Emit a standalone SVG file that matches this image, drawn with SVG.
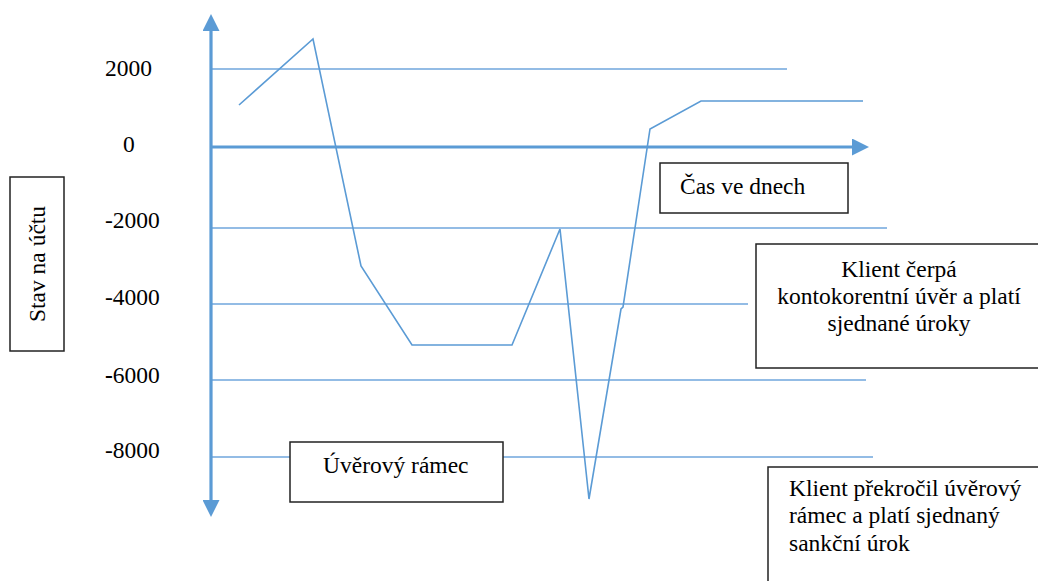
<svg xmlns="http://www.w3.org/2000/svg" width="1038" height="581" viewBox="0 0 1038 581">
<style>
.t{font-family:"Liberation Serif","Times New Roman",serif;font-size:23.5px;fill:#000}
.grid{stroke:#6FA6DC;stroke-width:1.6;fill:none}
.axis{stroke:#5B9BD5;stroke-width:3.2;fill:none}
.data{stroke:#5B9BD5;stroke-width:1.6;fill:none;stroke-linejoin:miter}
.box{fill:#fff;stroke:#222;stroke-width:1.5}
</style>
<defs>
<marker id="ah" markerUnits="userSpaceOnUse" markerWidth="17" markerHeight="17" refX="0" refY="8" orient="auto-start-reverse" viewBox="0 0 16 16">
<path d="M0,0 L16,8 L0,16 z" fill="#5B9BD5"/>
</marker>
</defs>
<rect width="1038" height="581" fill="#fff"/>
<g id="connectors">
<line class="grid" x1="211" y1="69" x2="787" y2="69"/>
<line class="grid" x1="211" y1="228" x2="887" y2="228"/>
<line class="grid" x1="211" y1="304" x2="748" y2="304"/>
<line class="grid" x1="211" y1="380" x2="866" y2="380"/>
<line class="grid" x1="211" y1="457" x2="873" y2="457"/>
<line class="axis" x1="211" y1="500" x2="211" y2="31" marker-start="url(#ah)" marker-end="url(#ah)"/>
<line class="axis" x1="211" y1="147" x2="852" y2="147" marker-end="url(#ah)"/>
<polyline class="data" points="239,105 313,39 361,266 412,345 512,345 560,229 589,499 621,309 623,307 650,129 701,101 863,101"/>
</g>
<g id="ylabels">
<text class="t" x="105" y="76">2000</text>
<text class="t" x="123" y="152">0</text>
<text class="t" x="105" y="228">-2000</text>
<text class="t" x="105" y="305">-4000</text>
<text class="t" x="105" y="383"><tspan font-weight="bold">-</tspan>6000</text>
<text class="t" x="105" y="458">-8000</text>
</g>
<g id="node-stav">
<rect class="box" x="10" y="177" width="54" height="174"/>
<text class="t" transform="translate(45,264) rotate(-90)" text-anchor="middle">Stav na účtu</text>
</g>
<g id="node-cas">
<rect class="box" x="660" y="163" width="188" height="50"/>
<text class="t" x="680" y="194">Čas ve dnech</text>
</g>
<g id="node-cerpa">
<rect class="box" x="756" y="244" width="290" height="124"/>
<text class="t" text-anchor="middle"><tspan x="899" y="277">Klient čerpá</tspan><tspan x="899" y="304">kontokorentní úvěr a platí</tspan><tspan x="899" y="331">sjednané úroky</tspan></text>
</g>
<g id="node-ramec">
<rect class="box" x="290" y="442" width="213" height="60"/>
<text class="t" x="323" y="473">Úvěrový rámec</text>
</g>
<g id="node-prekrocil">
<rect class="box" x="768" y="467" width="290" height="130"/>
<text class="t"><tspan x="789" y="496">Klient překročil úvěrový</tspan><tspan x="789" y="523">rámec a platí sjednaný</tspan><tspan x="789" y="551">sankční úrok</tspan></text>
</g>
</svg>
